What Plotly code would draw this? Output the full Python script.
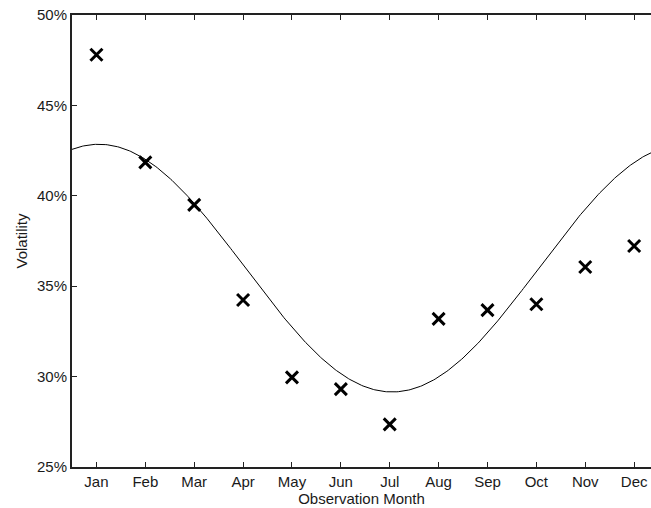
import numpy as np
import plotly.graph_objects as go

months = ["Jan", "Feb", "Mar", "Apr", "May", "Jun", "Jul", "Aug", "Sep", "Oct", "Nov", "Dec"]
month_num = list(range(1, 13))
volatility = [47.8, 41.85, 39.5, 34.24, 29.96, 29.31, 27.36, 33.19, 33.68, 34.0, 36.06, 37.22]

# fitted seasonal curve parameters
fit_mean = 36.0
fit_amp = 6.85
fit_peak_month = 1.05
fit_period = 12.0

y_ticks = [25, 30, 35, 40, 45, 50]
y_ticklabels = ["25%", "30%", "35%", "40%", "45%", "50%"]

xs = np.linspace(0.5, 12.5, 400)
curve = fit_mean + fit_amp * np.cos(2 * np.pi * (xs - fit_peak_month) / fit_period)

fig = go.Figure()
fig.add_trace(go.Scatter(x=xs, y=curve, mode="lines",
                         line=dict(color="black", width=1), hoverinfo="skip"))
fig.add_trace(go.Scatter(x=month_num, y=volatility, mode="markers",
                         marker=dict(symbol="x-thin", size=12,
                                     line=dict(color="black", width=3))))

font_family = "Liberation Sans, Arial, Helvetica, sans-serif"
fig.update_layout(
    width=651, height=508,
    margin=dict(l=72, r=0, t=15, b=41),
    paper_bgcolor="white", plot_bgcolor="white",
    showlegend=False,
    font=dict(family=font_family, size=15, color="#1a1a1a"),
    xaxis=dict(range=[0.5, 12.345], tickvals=month_num, ticktext=months,
               ticks="inside", ticklen=5, tickwidth=1, tickcolor="#222",
               showline=True, linecolor="#222", linewidth=2, mirror="ticks",
               showgrid=False, zeroline=False, automargin=False,
               ticklabeloverflow="allow",
               title=dict(text="Observation Month", standoff=0,
                          font=dict(size=15, family=font_family))),
    yaxis=dict(range=[25, 50], tickvals=y_ticks, ticktext=y_ticklabels,
               ticks="inside", ticklen=5, tickwidth=1, tickcolor="#222",
               showline=True, linecolor="#222", linewidth=2, mirror=False,
               showgrid=False, zeroline=False, automargin=False,
               ticklabeloverflow="allow",
               title=dict(text="Volatility", standoff=6,
                          font=dict(size=15, family=font_family))),
)

fig.write_html(
    "out.html",
    config={"displayModeBar": False},
    post_script="document.body.style.margin='0';"
                "document.documentElement.style.overflow='hidden';",
)
